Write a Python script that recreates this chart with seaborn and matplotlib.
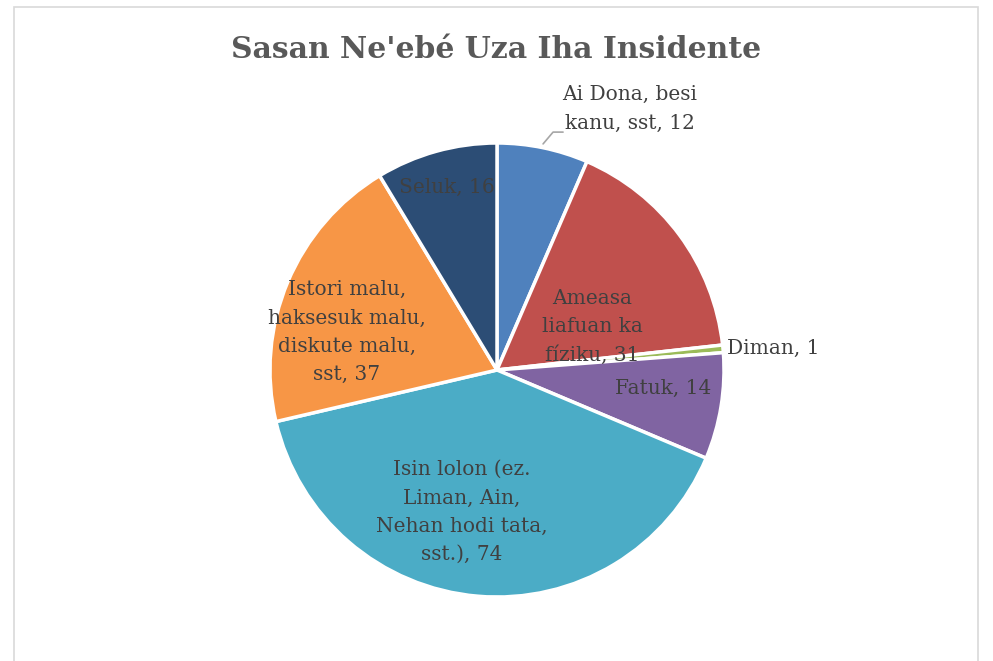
import matplotlib
matplotlib.use("Agg")
import matplotlib.pyplot as plt
import matplotlib.patches as mpatches
import seaborn as sns

# Chart data
categories = [
    "Ai Dona, besi\nkanu, sst",
    "Ameasa\nliafuan ka\nfíziku",
    "Diman",
    "Fatuk",
    "Isin lolon (ez.\nLiman, Ain,\nNehan hodi tata,\nsst.)",
    "Istori malu,\nhaksesuk malu,\ndiskute malu,\nsst",
    "Seluk",
]
values = [12, 31, 1, 14, 74, 37, 16]
colors = ["#4F81BD", "#C0504D", "#9BBB59", "#8064A2", "#4BACC6", "#F79646", "#2C4D75"]
title = "Sasan Ne'ebé Uza Iha Insidente"

# label positions in pie units (radius = 1)
label_pos = [(0.586, 1.150), (0.419, 0.189), (1.216, 0.097), (0.731, -0.079),
             (-0.154, -0.626), (-0.661, 0.167), (-0.220, 0.806)]

sns.set_style("white")
plt.rcParams["font.family"] = ["DejaVu Serif"]

W, H = 993, 661
fig = plt.figure(figsize=(W / 100, H / 100), dpi=100)

# chart border
fig.add_artist(mpatches.Rectangle((14 / W, -0.02), (978 - 14) / W, 1.02 - 7 / H,
                                  transform=fig.transFigure, fill=False,
                                  edgecolor="#D9D9D9", linewidth=1.2))

cx, cy, r = 497, 370, 227
ax = fig.add_axes([(cx - r) / W, (H - cy - r) / H, 2 * r / W, 2 * r / H])
ax.pie(values, colors=colors, startangle=90, counterclock=False, radius=1,
       wedgeprops=dict(edgecolor="white", linewidth=2.5))
ax.set_xlim(-1, 1)
ax.set_ylim(-1, 1)
ax.set_aspect("equal")
ax.axis("off")

for cat, val, (x, y) in zip(categories, values, label_pos):
    ax.text(x, y, f"{cat}, {val}", ha="center", va="center", fontsize=14.5,
            color="#404040", linespacing=1.62, clip_on=False)

# leader line for the first label
ax.plot([0.203, 0.247, 0.291], [0.996, 1.048, 1.048], color="#A6A6A6",
        linewidth=1.2, clip_on=False)

fig.text(0.5, 1 - 50 / H, title, ha="center", va="center", fontsize=21.5,
         fontweight="bold", color="#595959")

fig.savefig("out.png", dpi=100)
